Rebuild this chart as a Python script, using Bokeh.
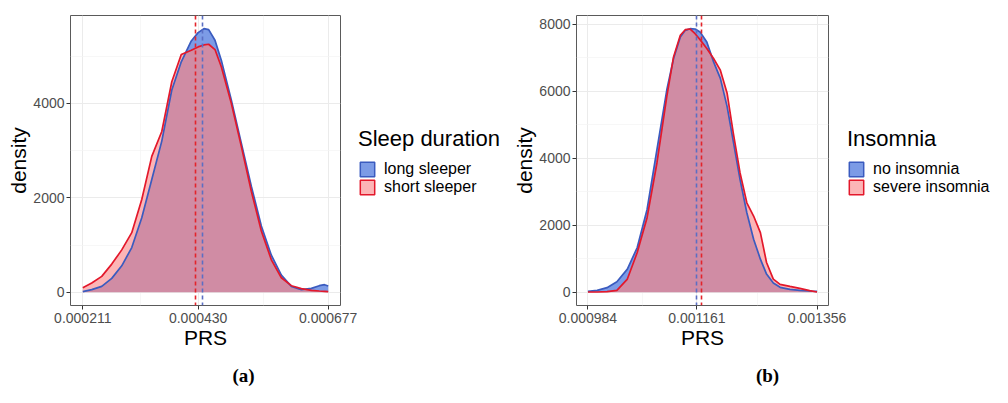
import numpy as np
from bokeh.plotting import figure
from bokeh.models import Range1d, FixedTicker, Legend, LegendItem, Label
from bokeh.layouts import row, column
from bokeh.embed import file_html
from bokeh.resources import INLINE

# ---------------- data: panel (a) Sleep duration ----------------
prs_a = [0.000211, 0.000228, 0.000247, 0.000266, 0.000285, 0.000304, 0.000323, 0.000342,
         0.000361, 0.000380, 0.000398, 0.000417, 0.000430, 0.000441, 0.000450, 0.000462,
         0.000474, 0.000493, 0.000512, 0.000531, 0.000550, 0.000569, 0.000588, 0.000607,
         0.000626, 0.000645, 0.000660, 0.000670, 0.000677]
long_sleeper = [14, 56, 126, 295, 561, 947, 1579, 2386, 3200, 4281, 4878, 5320, 5495, 5579,
                5558, 5334, 4913, 4070, 3158, 2246, 1404, 786, 365, 126, 56, 84, 140, 161, 133]
short_sleeper = [98, 196, 337, 597, 898, 1263, 1965, 2877, 3404, 4456, 5032, 5123, 5193, 5235,
                 5249, 5137, 4772, 4000, 3088, 2140, 1298, 688, 309, 140, 77, 42, 28, 21, 14]
mean_long = 0.000439
mean_short = 0.000425
xticks_a = [0.000211, 0.000430, 0.000677]
xlabels_a = ["0.000211", "0.000430", "0.000677"]
yticks_a = [0, 2000, 4000]
ylabels_a = ["0", "2000", "4000"]
labels_a = ["long sleeper", "short sleeper"]
legend_title_a = "Sleep duration"

# ---------------- data: panel (b) Insomnia ----------------
prs_b = [0.000984, 0.000999, 0.001015, 0.001031, 0.001048, 0.001064, 0.001080, 0.001096,
         0.001112, 0.001123, 0.001134, 0.001142, 0.001150, 0.001158, 0.001166, 0.001177,
         0.001188, 0.001199, 0.001210, 0.001220, 0.001231, 0.001242, 0.001253, 0.001264,
         0.001274, 0.001285, 0.001296, 0.001312, 0.001328, 0.001344, 0.001356]
no_insomnia = [30, 59, 139, 317, 693, 1337, 2475, 4257, 6039, 6980, 7623, 7821, 7871, 7861,
               7772, 7475, 6880, 6386, 5544, 4505, 3366, 2376, 1584, 990, 545, 277, 149, 89,
               59, 40, 30]
severe_insomnia = [10, 10, 20, 59, 396, 1188, 2228, 3861, 5841, 7029, 7673, 7841, 7861, 7722,
                   7544, 7277, 6980, 6633, 5940, 4752, 3564, 2673, 2277, 1782, 891, 396, 238,
                   178, 119, 50, 10]
mean_no = 0.001161
mean_severe = 0.001169
xticks_b = [0.000984, 0.001161, 0.001356]
xlabels_b = ["0.000984", "0.001161", "0.001356"]
yticks_b = [0, 2000, 4000, 6000, 8000]
ylabels_b = ["0", "2000", "4000", "6000", "8000"]
labels_b = ["no insomnia", "severe insomnia"]
legend_title_b = "Insomnia"

captions = ["(a)", "(b)"]

# ---------------- styles ----------------
BLUE_FILL = "#7C9BE6"
RED_FILL = "#FCB5B6"
MIX_FILL = "#D08CA4"
BLUE_LINE = "#3A5BBF"
RED_LINE = "#E3182B"
BLUE_DASH = "#5B6FC4"
RED_DASH = "#E3242B"
SANS = "Liberation Sans"
ROW_H = 354
FRAME_TOP = 15
FRAME_BOTTOM = 305


def with_crossings(x, b, r):
    x = np.asarray(x, float); b = np.asarray(b, float); r = np.asarray(r, float)
    xs, bs, rs = [x[0]], [b[0]], [r[0]]
    for i in range(1, len(x)):
        d0 = b[i - 1] - r[i - 1]
        d1 = b[i] - r[i]
        if d0 * d1 < 0:
            t = d0 / (d0 - d1)
            xs.append(x[i - 1] + t * (x[i] - x[i - 1]))
            bs.append(b[i - 1] + t * (b[i] - b[i - 1]))
            rs.append(r[i - 1] + t * (r[i] - r[i - 1]))
        xs.append(x[i]); bs.append(b[i]); rs.append(r[i])
    return np.array(xs), np.array(bs), np.array(rs)


def blank(width, height):
    f = figure(width=width, height=height, output_backend="svg", toolbar_location=None,
               x_range=Range1d(0, 1), y_range=Range1d(0, 1),
               x_axis_location=None, y_axis_location=None,
               min_border_left=0, min_border_right=0, min_border_top=0, min_border_bottom=0)
    f.grid.visible = False
    f.outline_line_color = None
    f.background_fill_color = "white"
    f.border_fill_color = "white"
    return f


def panel(x, blue, red, mb, mr, xticks, xlabels, yticks, ylabels, width, bl, br):
    span = xticks[-1] - xticks[0]
    ymax = max(max(blue), max(red))
    p = figure(width=width, height=ROW_H, output_backend="svg", toolbar_location=None,
               x_range=Range1d(xticks[0] - 0.05 * span, xticks[-1] + 0.05 * span),
               y_range=Range1d(-0.05 * ymax, 1.05 * ymax),
               min_border_left=bl, min_border_right=br, min_border_top=FRAME_TOP,
               min_border_bottom=ROW_H - FRAME_BOTTOM)
    p.background_fill_color = "white"
    p.border_fill_color = "white"
    p.outline_line_color = "#5A5A5A"
    p.outline_line_width = 1

    xminor = [(xticks[i] + xticks[i + 1]) / 2 for i in range(len(xticks) - 1)]
    yminor = [(yticks[i] + yticks[i + 1]) / 2 for i in range(len(yticks) - 1)] + \
             [yticks[-1] + (yticks[1] - yticks[0]) / 2]
    xt = FixedTicker(ticks=xticks, minor_ticks=xminor)
    yt = FixedTicker(ticks=yticks, minor_ticks=yminor)
    p.xaxis.ticker = xt
    p.yaxis.ticker = yt
    p.xgrid.ticker = xt
    p.ygrid.ticker = yt
    p.xaxis.major_label_overrides = {t: l for t, l in zip(xticks, xlabels)}
    p.yaxis.major_label_overrides = {t: l for t, l in zip(yticks, ylabels)}
    for g in (p.xgrid, p.ygrid):
        g.grid_line_color = "#EBEBEB"
        g.grid_line_width = 1
        g.minor_grid_line_color = "#F4F4F4"
        g.minor_grid_line_width = 0.7
    p.axis.axis_line_color = None
    p.axis.minor_tick_line_color = None
    p.axis.major_tick_in = 0
    p.axis.major_tick_out = 4
    p.axis.major_tick_line_color = "#333333"
    p.axis.major_label_text_font = SANS
    p.axis.major_label_text_color = "#4D4D4D"
    p.axis.major_label_text_font_size = "14px"
    p.axis.axis_label_text_font = SANS
    p.axis.axis_label_text_font_size = "21px"
    p.axis.axis_label_text_font_style = "normal"
    p.axis.axis_label_text_color = "black"
    p.xaxis.axis_label = "PRS"
    p.yaxis.axis_label = "density"
    p.xaxis.major_label_standoff = 3
    p.yaxis.major_label_standoff = 2
    p.xaxis.axis_label_standoff = 0
    p.yaxis.axis_label_standoff = 0

    xs, bs, rs = with_crossings(x, blue, red)
    mn = np.minimum(bs, rs)
    zero = np.zeros_like(xs)
    p.varea(x=xs, y1=zero, y2=mn, fill_color=MIX_FILL)
    p.varea(x=xs, y1=mn, y2=bs, fill_color=BLUE_FILL)
    p.varea(x=xs, y1=mn, y2=rs, fill_color=RED_FILL)
    p.line(x, blue, line_color=BLUE_LINE, line_width=1.7)
    p.line(x, red, line_color=RED_LINE, line_width=1.7)
    p.vspan(x=[mb], line_color=BLUE_DASH, line_width=1.6, line_dash="4 3")
    p.vspan(x=[mr], line_color=RED_DASH, line_width=1.6, line_dash="4 3")
    return p


def legend_panel(width, labels, ltitle, lx):
    f = blank(width, ROW_H)
    # legend key proxies: hidden renderers, drawn only as legend keys
    kb = f.quad(left=[0], right=[0], top=[0], bottom=[0], fill_color=BLUE_FILL,
                line_color=BLUE_LINE, line_width=1.5, visible=False)
    kr = f.quad(left=[0], right=[0], top=[0], bottom=[0], fill_color=RED_FILL,
                line_color=RED_LINE, line_width=1.5, visible=False)
    leg = Legend(items=[LegendItem(label=labels[0], renderers=[kb]),
                        LegendItem(label=labels[1], renderers=[kr])],
                 title=ltitle, location=(lx, ROW_H - 245), orientation="vertical")
    leg.title_text_font = SANS
    leg.title_text_font_size = "22px"
    leg.title_text_font_style = "normal"
    leg.title_text_color = "black"
    leg.label_text_font = SANS
    leg.label_text_font_size = "16px"
    leg.label_text_color = "black"
    leg.glyph_width = 18
    leg.glyph_height = 18
    leg.label_height = 18
    leg.spacing = 0
    leg.padding = 0
    leg.margin = 0
    leg.label_standoff = 8
    leg.title_standoff = 8
    leg.border_line_alpha = 0
    leg.background_fill_alpha = 0
    leg.click_policy = "none"
    f.add_layout(leg, "center")
    return f


p1 = panel(prs_a, long_sleeper, short_sleeper, mean_long, mean_short,
           xticks_a, xlabels_a, yticks_a, ylabels_a, 357, 70, 17)
l1 = legend_panel(151, labels_a, legend_title_a, 1)
p2 = panel(prs_b, no_insomnia, severe_insomnia, mean_no, mean_severe,
           xticks_b, xlabels_b, yticks_b, ylabels_b, 339, 68, 19)
l2 = legend_panel(145, labels_b, legend_title_b, 0)

cap = blank(992, 387 - ROW_H)
for txt, cx in zip(captions, [243, 767]):
    cap.add_layout(Label(x=cx, y=12, x_units="screen", y_units="screen", text=txt,
                         text_align="center", text_baseline="middle",
                         text_font="Liberation Serif", text_font_size="19px",
                         text_font_style="bold", text_color="black"))

layout = column(row(p1, l1, p2, l2), cap)
open("out.html", "w").write(file_html(layout, INLINE))
